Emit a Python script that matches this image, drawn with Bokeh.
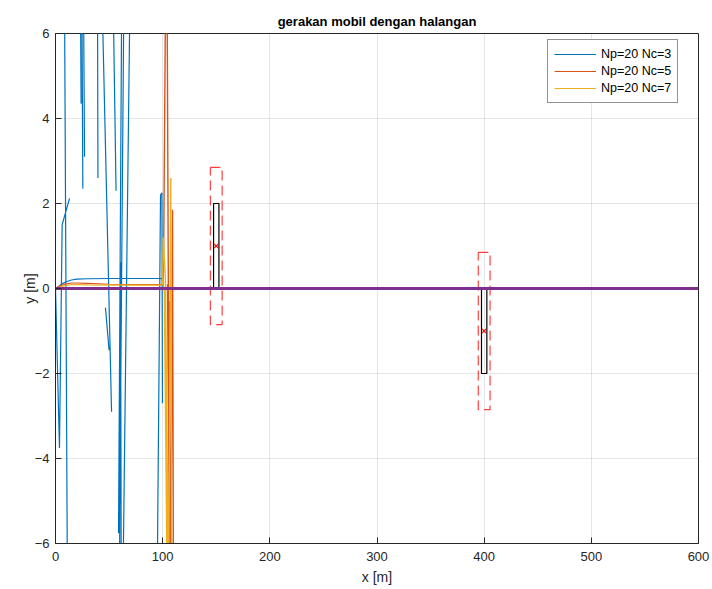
import numpy as np
from bokeh.plotting import figure
from bokeh.models import Range1d, Legend, LegendItem, FixedTicker
from bokeh.embed import file_html
from bokeh.resources import INLINE

nan = np.nan

# Reference path (purple): straight road along y = 0
ref_x = [0, 600]
ref_y = [0, 0]

# Smooth vehicle trajectories for each controller setting
traj3_x = [0, 3, 6, 10, 15, 20, 30, 50, 80, 99.5, 100.5]
traj3_y = [0, 0.05, 0.11, 0.16, 0.2, 0.22, 0.23, 0.235, 0.235, 0.235, 0.05]
traj5_x = [0, 3, 6, 10, 15, 20, 30, 50, 80, 100]
traj5_y = [0, 0.04, 0.08, 0.11, 0.13, 0.13, 0.12, 0.1, 0.09, 0.09]
traj7_x = [0, 3, 6, 10, 15, 20, 30, 50, 80, 100]
traj7_y = [0, 0.03, 0.05, 0.07, 0.09, 0.09, 0.085, 0.08, 0.08, 0.08]

# Unstable excursions (NaN separates pieces)
wild3_x = [0, 3.7, 6.2, 13.1, nan,
           8.0, 11.5, nan,
           22.8, 23.9, nan,
           25.6, 27.1, nan,
           24.2, 25.5, nan,
           39.0, 39.6, nan,
           41.5, 52.3, nan,
           46.6, 50.0, nan,
           52.5, 56.5, nan,
           64.5, 60.2, 61.0, nan,
           62.3, 58.8, nan,
           59.5, 60.7, 61.5, nan,
           70.5, 62.0, nan,
           94.2, 98.0, 99.3, 99.8]
wild3_y = [0, -3.75, 1.5, 2.12, nan,
           9, -9, nan,
           9, 4.35, nan,
           9, 3.1, nan,
           9, 2.35, nan,
           9, 2.6, nan,
           9, -2.9, nan,
           -0.45, -1.45, nan,
           9, 2.3, nan,
           9, -4.4, -5.05, nan,
           9, -5.76, nan,
           -9, 0.62, -9, nan,
           9, -9, nan,
           -9, 2.2, 2.25, -2.7]

wild5_x = [100, 100.8, 103.3, nan,
           103.8, 106.8, nan,
           104.5, 107.2, nan,
           107.4, 109.2, 110.2, nan,
           106.2, 108.0]
wild5_y = [0.09, 0.4, 9, nan,
           9, -9, nan,
           0.1, -9, nan,
           -9, 1.85, -9, nan,
           -0.3, -9]

wild7_x = [100, 100.5, 102.5, 106.3, nan,
           105.2, 107.6, 108.6, nan,
           101.5, 105.0]
wild7_y = [0.08, 1.2, 0.3, -9, nan,
           -9, 2.6, -9, nan,
           0.05, -9]

# Obstacles: centre, physical size and safety envelope
obs_x = [150, 400]
obs_y = [1, -1]
obs_w = [5, 5]
obs_h = [2, 2]
safe_w = [11, 11]
safe_h = [3.7, 3.7]

x_ticks = [0, 100, 200, 300, 400, 500, 600]
y_ticks = [-6, -4, -2, 0, 2, 4, 6]

BLUE = "#0072BD"
ORANGE = "#D95319"
YELLOW = "#EDB120"
PURPLE = "#7E2F8E"
INK = "#262626"
FONT = "Liberation Sans"

p = figure(width=712, height=589, output_backend="svg", toolbar_location=None,
           x_range=Range1d(0, 600), y_range=Range1d(-6, 6),
           min_border_left=55, min_border_right=14, min_border_top=33,
           min_border_bottom=46, title="gerakan mobil dengan halangan")
p.background_fill_color = "white"
p.border_fill_color = "white"
p.outline_line_color = INK
p.outline_line_width = 1

p.title.align = "center"
p.title.text_font = FONT
p.title.text_font_size = "13px"
p.title.text_font_style = "bold"
p.title.text_color = "black"
p.title.offset = 0

for ax in (p.xaxis[0], p.yaxis[0]):
    ax.axis_line_color = INK
    ax.major_tick_line_color = INK
    ax.major_tick_in = 6
    ax.major_tick_out = 0
    ax.minor_tick_line_color = None
    ax.major_label_text_font = FONT
    ax.major_label_text_font_size = "13px"
    ax.major_label_text_color = INK
    ax.axis_label_text_font = FONT
    ax.axis_label_text_font_size = "14px"
    ax.axis_label_text_font_style = "normal"
    ax.axis_label_text_color = INK

p.xaxis[0].ticker = FixedTicker(ticks=x_ticks)
p.yaxis[0].ticker = FixedTicker(ticks=y_ticks)
p.xaxis[0].axis_label = "x [m]"
p.yaxis[0].axis_label = "y [m]"
p.xaxis[0].axis_label_standoff = 5
p.yaxis[0].axis_label_standoff = -6
p.xaxis[0].major_label_standoff = 8
p.yaxis[0].major_label_standoff = 6

p.grid.grid_line_color = "#000000"
p.grid.grid_line_alpha = 0.1
p.xgrid.ticker = FixedTicker(ticks=x_ticks)
p.ygrid.ticker = FixedTicker(ticks=y_ticks)

# Trajectories
l3 = p.line(traj3_x, traj3_y, color=BLUE, line_width=1.2)
p.line(wild3_x, wild3_y, color=BLUE, line_width=1.2)
l5 = p.line(traj5_x, traj5_y, color=ORANGE, line_width=1.2)
p.line(wild5_x, wild5_y, color=ORANGE, line_width=1.4)
l7 = p.line(traj7_x, traj7_y, color=YELLOW, line_width=1.2)
p.line(wild7_x, wild7_y, color=YELLOW, line_width=1.4)

# Obstacles
p.rect(x=obs_x, y=obs_y, width=safe_w, height=safe_h, fill_color=None,
       line_color="#FF0000", line_alpha=0.75, line_dash="10 5", line_width=1.2)
p.rect(x=obs_x, y=obs_y, width=obs_w, height=obs_h, fill_color=None,
       line_color="black", line_width=1.2)
p.scatter(x=obs_x, y=obs_y, marker="x", size=6, color="#FF0000", line_width=1.2)

# Reference road on top
p.line(ref_x, ref_y, color=PURPLE, line_width=3)

legend = Legend(items=[LegendItem(label="Np=20 Nc=3", renderers=[l3]),
                       LegendItem(label="Np=20 Nc=5", renderers=[l5]),
                       LegendItem(label="Np=20 Nc=7", renderers=[l7])],
                location=(492, 440))
legend.border_line_color = INK
legend.border_line_width = 1
legend.background_fill_color = "white"
legend.background_fill_alpha = 1
legend.label_text_font = FONT
legend.label_text_font_size = "12.5px"
legend.label_text_color = "black"
legend.glyph_width = 42
legend.glyph_height = 16
legend.label_height = 16
legend.spacing = 1
legend.padding = 6
legend.margin = 0
legend.label_standoff = 5
p.add_layout(legend, "center")

open("out.html", "w").write(file_html(p, INLINE))
